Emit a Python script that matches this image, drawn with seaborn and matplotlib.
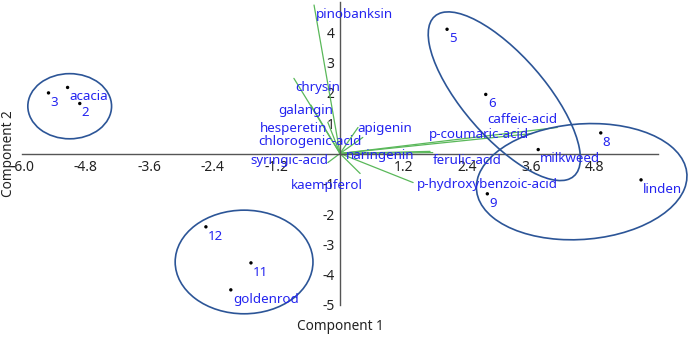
import seaborn as sns
import numpy as np
import pandas as pd
import matplotlib.pyplot as plt
from matplotlib.patches import Ellipse

# sample scores
samples = ['acacia', '2', '3', '5', '6', '8', 'milkweed', 'linden', '9', '12', '11', 'goldenrod']
score_x = [-5.14, -4.91, -5.50, 2.02, 2.75, 4.92, 3.74, 5.68, 2.78, -2.53, -1.68, -2.06]
score_y = [2.18, 1.65, 2.00, 4.10, 1.95, 0.68, 0.13, -0.87, -1.33, -2.42, -3.61, -4.50]

# loading vectors (end points) and where their names sit
compounds = ['pinobanksin', 'chrysin', 'galangin', 'hesperetin', 'chlorogenic-acid', 'apigenin',
             'syringic-acid', 'naringenin', 'kaempferol', 'p-coumaric-acid', 'caffeic-acid',
             'ferulic-acid', 'p-hydroxybenzoic-acid']
load_x = [-0.49, -0.87, -0.55, -0.23, 0.43, 0.34, -0.23, 1.70, 0.38, 3.63, 4.10, 1.75, 1.38]
load_y = [4.90, 2.48, 1.60, 1.03, 0.53, 0.86, -0.30, 0.07, -0.66, 0.66, 0.86, 0.03, -0.96]
label_x = [0.28, -0.43, -0.64, -0.87, -0.57, 0.85, -0.95, 0.76, -0.25, 2.63, 3.44, 2.40, 2.78]
label_y = [4.60, 2.19, 1.42, 0.83, 0.40, 0.83, -0.23, -0.07, -1.06, 0.63, 1.13, -0.23, -1.03]

# group ellipses: centre, width, height, angle (data units)
ell_cx = [-5.10, -1.81, 3.10, 4.56]
ell_cy = [1.56, -3.58, 1.89, -0.93]
ell_w = [1.58, 2.60, 6.0, 4.10]
ell_h = [2.15, 3.42, 1.8, 3.70]
ell_ang = [0, 0, -67, 35]

xticks = [-6.0, -4.8, -3.6, -2.4, -1.2, 1.2, 2.4, 3.6, 4.8]
yticks = [-5, -4, -3, -2, -1, 1, 2, 3, 4]

sns.set_style('white')
plt.rcParams['font.family'] = ['Noto Sans', 'DejaVu Sans']
plt.rcParams['axes.unicode_minus'] = False

fig = plt.figure(figsize=(6.88, 3.38), dpi=100)
ax = fig.add_axes([22 / 688, 33 / 338, 636 / 688, 303 / 338])

blue = '#2424f0'
green = '#5ab85a'
navy = '#2c5597'

for lx, ly in zip(load_x, load_y):
    ax.plot([0, lx], [0, ly], color=green, lw=0.9, zorder=2)
for name, tx, ty in zip(compounds, label_x, label_y):
    ax.text(tx, ty, name, color=blue, fontsize=9.6, ha='center', va='center', zorder=4)

for cx, cy, w, h, a in zip(ell_cx, ell_cy, ell_w, ell_h, ell_ang):
    ax.add_patch(Ellipse((cx, cy), w, h, angle=a, fill=False, ec=navy, lw=1.2,
                         zorder=3, clip_on=False))

df = pd.DataFrame({'x': score_x, 'y': score_y, 'name': samples})
sns.scatterplot(data=df, x='x', y='y', ax=ax, color='black', s=6, edgecolor='none', zorder=5)
for name, px, py in zip(samples, score_x, score_y):
    ax.annotate(name, (px, py), xytext=(1.5, -2), textcoords='offset points',
                ha='left', va='top', color=blue, fontsize=9.6, zorder=4)

ax.set_xlim(-6.0, 6.0)
ax.set_ylim(-5.0, 5.0)
for s in ['top', 'right']:
    ax.spines[s].set_visible(False)
ax.spines['left'].set_position(('data', 0))
ax.spines['bottom'].set_position(('data', 0))
for s in ['left', 'bottom']:
    ax.spines[s].set_color('#555555')
    ax.spines[s].set_linewidth(1)

ax.set_xticks(xticks)
ax.set_xticklabels(['%.1f' % v for v in xticks])
ax.set_yticks(yticks)
ax.set_yticklabels([str(v) for v in yticks])
ax.tick_params(axis='x', direction='in', length=3, labelsize=10, colors='#555555', labelcolor='#222222', pad=5)
ax.tick_params(axis='y', direction='out', length=3, labelsize=10, colors='#555555', labelcolor='#222222', pad=1)

ax.set_xlabel('Component 1', fontsize=9.8, color='#222222')
ax.set_ylabel('Component 2', fontsize=9.8, color='#222222')
ax.xaxis.set_label_coords(0.5, -0.045)
ax.yaxis.set_label_coords(-0.009, 0.5)

fig.savefig('out.png', dpi=100)
